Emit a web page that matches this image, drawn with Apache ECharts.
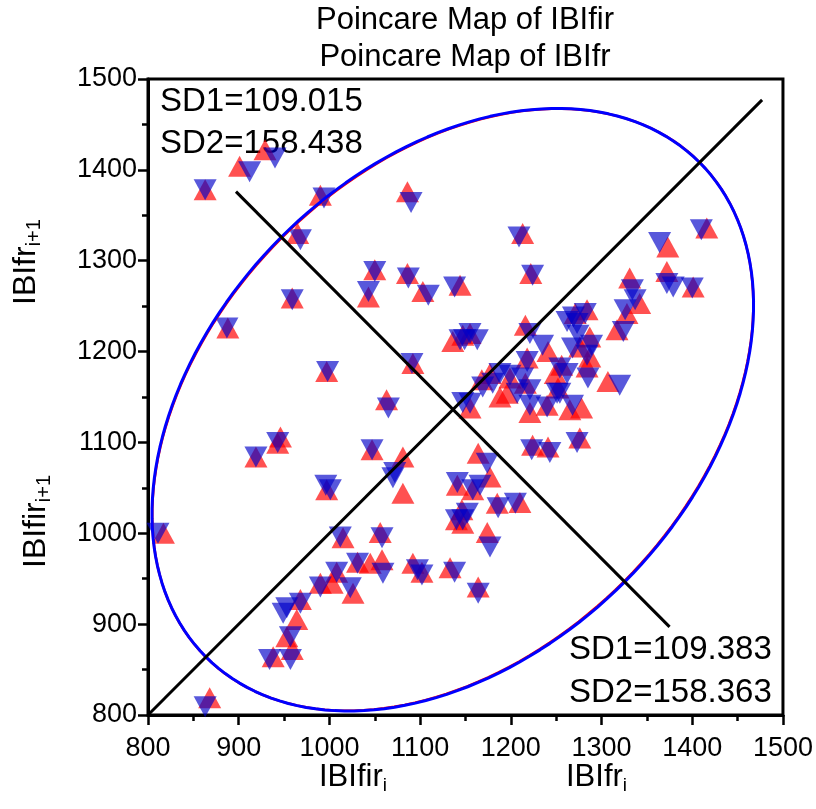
<!DOCTYPE html>
<html>
<head>
<meta charset="utf-8">
<script src="https://cdn.jsdelivr.net/npm/echarts@6/dist/echarts.min.js"></script>
<style>
  html, body { margin: 0; padding: 0; background: #fff; }
  #main { width: 816px; height: 809px; }
</style>
</head>
<body>
<div id="main"></div>
<script>
// IBIfir (red, up triangles) : [IBI_i, IBI_i+1]
var ibifirPoints = [
  [863,1378],[901,1404],[929,1422],[990,1372],[1086,1376],[965,1330],[1050,1290],[1086,1286],
  [1103,1266],[1144,1273],[1043,1260],[959,1259],[1213,1330],[1222,1286],[1373,1315],[1416,1336],
  [1372,1288],[1401,1271],[1331,1281],[1342,1253],[1271,1242],[1284,1246],[1328,1242],[1147,1218],
  [1155,1220],[1216,1229],[1241,1200],[1218,1193],[1287,1216],[1276,1205],[1287,1194],[1256,1185],
  [1284,1183],[1307,1167],[1249,1176],[1252,1160],[1278,1138],[1276,1105],[1224,1097],[1241,1095],
  [1199,1171],[1216,1165],[1196,1154],[1221,1133],[1240,1141],[1168,1169],[1177,1176],[1155,1138],
  [1188,1150],[1164,1088],[1081,1084],[1081,1044],[1047,1092],[919,1084],[943,1099],[997,1048],
  [1141,1053],[1140,1015],[1015,995],[1056,1001],[1008,957],[1026,934],[1031,968],[1045,967],
  [1058,971],[1092,967],[1102,957],[1133,962],[968,927],[938,864],[959,872],[953,886],
  [964,905],[1003,945],[990,945],[817,1000],[868,819],[1317,1224],[1177,1062],[1158,1048],
  [1185,1033],[1210,1034],[1146,1026],[1164,941],[1174,1001],[888,1226],[997,1178],[1063,1147],
  [1092,1187],[946,1106],[1136,1211],[1147,1011],[1265,1136]
];
// IBIfr (blue, down triangles)
var ibifrPoints = [
  [863,1378],[912,1398],[940,1413],[994,1369],[1090,1364],[968,1323],[1050,1288],[1087,1281],
  [1109,1262],[1138,1271],[1043,1266],[959,1257],[1209,1326],[1224,1284],[1364,1320],[1410,1334],
  [1372,1275],[1400,1270],[1379,1271],[1334,1268],[1337,1257],[1269,1238],[1282,1242],[1326,1246],
  [1155,1220],[1149,1213],[1163,1213],[1221,1220],[1235,1207],[1218,1189],[1262,1233],[1273,1231],
  [1289,1207],[1274,1218],[1268,1204],[1284,1196],[1254,1182],[1262,1176],[1285,1171],[1320,1163],
  [1251,1154],[1268,1141],[1273,1100],[1223,1092],[1243,1089],[1199,1174],[1213,1171],[1221,1158],
  [1207,1154],[1221,1141],[1240,1139],[1254,1154],[1169,1161],[1180,1165],[1188,1176],[1155,1143],
  [1147,1144],[1072,1067],[1070,1061],[1047,1092],[919,1084],[943,1100],[1001,1048],[996,1053],
  [1141,1056],[1158,1048],[1140,1015],[1012,996],[1058,995],[1008,957],[990,941],[1023,940],
  [1031,967],[1059,956],[1097,960],[1102,954],[1138,957],[968,923],[953,918],[934,861],
  [957,861],[957,886],[949,912],[811,1000],[863,809],[1324,1222],[1174,1077],[1166,1053],
  [1186,1028],[1205,1033],[1152,1022],[1164,934],[1177,985],[887,1226],[998,1178],[1065,1138],
  [1091,1187],[1144,1213],[1147,1015]
];

var sdFir = { sd1: 109.015, sd2: 158.438, center: [1136, 1136] };
var sdFr = { sd1: 109.383, sd2: 158.363, center: [1136, 1136] };

var identityLine = [[800, 800], [1477, 1477]];
var perpendicularLine = [[897, 1376], [1375, 897]];

var axisMin = 800;
var axisMax = 1500;
var axisStep = 100;

// ellipse of the fit, radii scaled from SD2 (along identity) and SD1 (across)
function ellipse(sd) {
  var pts = [];
  var a = sd.sd2 * 2.43, b = sd.sd1 * 2.45;
  var r = Math.SQRT1_2;
  for (var i = 0; i <= 180; i++) {
    var t = i / 180 * Math.PI * 2;
    var u = a * Math.cos(t), v = b * Math.sin(t);
    pts.push([sd.center[0] + (u - v) * r, sd.center[1] + (u + v) * r]);
  }
  return pts;
}

var chart = echarts.init(document.getElementById('main'));
var FONT = 'Liberation Sans, Arial, sans-serif';

var axisCommon = {
  type: 'value',
  min: axisMin,
  max: axisMax,
  interval: axisStep,
  splitLine: { show: false },
  axisLine: { show: true, lineStyle: { color: '#000', width: 3 } },
  axisTick: { show: true, length: 10, lineStyle: { color: '#000', width: 2.5 } },
  minorTick: { show: true, splitNumber: 2, length: 6, lineStyle: { color: '#000', width: 2.5 } },
  axisLabel: { color: '#000', fontSize: 27, fontFamily: FONT, formatter: function (v) { return String(v); } }
};

function subRich(big, small, drop) {
  return {
    a: { fontSize: big, fontFamily: FONT, color: '#000', lineHeight: big + 2, verticalAlign: 'top' },
    s: { fontSize: small, fontFamily: FONT, color: '#000', lineHeight: small, verticalAlign: 'bottom', padding: [drop, 0, 0, 0] }
  };
}

chart.setOption({
  animation: false,
  backgroundColor: '#fff',
  grid: { left: 148, right: 33, top: 79, bottom: 94, show: true, borderColor: '#000', borderWidth: 3 },
  xAxis: Object.assign({}, axisCommon, { axisLabel: Object.assign({}, axisCommon.axisLabel, { margin: 20 }) }),
  yAxis: Object.assign({}, axisCommon, { axisLabel: Object.assign({}, axisCommon.axisLabel, { margin: 11 }) }),
  graphic: [
    { type: 'text', x: 465, y: 5, style: { text: 'Poincare Map of IBIfir', font: '31px ' + FONT, fill: '#000', textAlign: 'center' } },
    { type: 'text', x: 465, y: 42, style: { text: 'Poincare Map of IBIfr', font: '31px ' + FONT, fill: '#000', textAlign: 'center' } },
    { type: 'text', x: 160, y: 81, style: { text: 'SD1=' + sdFir.sd1.toFixed(3) + '\nSD2=' + sdFir.sd2.toFixed(3), font: '33px ' + FONT, fill: '#000', lineHeight: 42 } },
    { type: 'text', x: 569, y: 628, style: { text: 'SD1=' + sdFr.sd1.toFixed(3) + '\nSD2=' + sdFr.sd2.toFixed(3), font: '33px ' + FONT, fill: '#000', lineHeight: 43 } },
    { type: 'text', x: 319, y: 762, style: { text: '{a|IBIfir}{s|i}', rich: subRich(31, 19, 21) } },
    { type: 'text', x: 566, y: 762, style: { text: '{a|IBIfr}{s|i}', rich: subRich(31, 19, 21) } },
    { type: 'text', x: 10, y: 305, rotation: Math.PI / 2, style: { text: '{a|IBIfr}{s|i+1}', rich: subRich(32, 20, 21) } },
    { type: 'text', x: 20, y: 568, rotation: Math.PI / 2, style: { text: '{a|IBIfir}{s|i+1}', rich: subRich(32, 20, 21) } }
  ],
  series: [
    {
      name: 'IBIfir', type: 'scatter', data: ibifirPoints,
      symbol: 'triangle', symbolSize: [23, 21],
      itemStyle: { color: 'rgba(255,0,0,0.85)' }, z: 2
    },
    {
      name: 'IBIfr', type: 'scatter', data: ibifrPoints,
      symbol: 'triangle', symbolRotate: 180, symbolSize: [23, 21],
      itemStyle: { color: 'rgba(0,0,200,0.82)' }, z: 3
    },
    {
      type: 'line', data: ellipse(sdFir), showSymbol: false, silent: true, z: 4,
      lineStyle: { color: '#ff0000', width: 2.5 }
    },
    {
      type: 'line', data: ellipse(sdFr), showSymbol: false, silent: true, z: 5,
      lineStyle: { color: '#0000ff', width: 3 }
    },
    {
      type: 'line', data: identityLine, showSymbol: false, silent: true, z: 6,
      lineStyle: { color: '#000', width: 3 }
    },
    {
      type: 'line', data: perpendicularLine, showSymbol: false, silent: true, z: 6,
      lineStyle: { color: '#000', width: 3 }
    }
  ]
});
</script>
</body>
</html>
